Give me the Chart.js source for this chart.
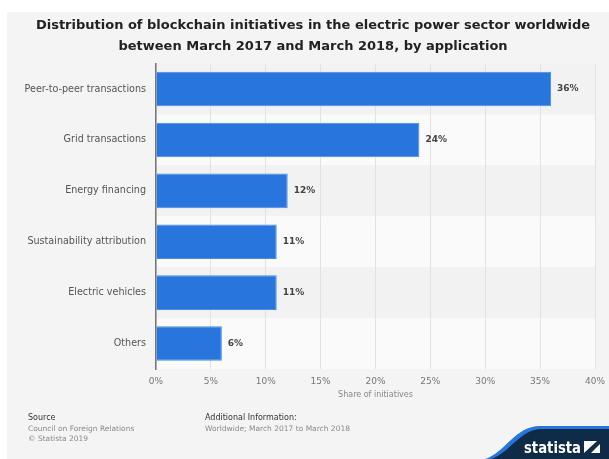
<!DOCTYPE html>
<html>
<head>
<meta charset="utf-8">
<script src="https://cdn.jsdelivr.net/npm/chart.js@4/dist/chart.umd.min.js"></script>
<style>
  body { margin: 0; background: #fff; }
  #wrap { position: relative; width: 609px; height: 459px; }
  #chart { position: absolute; left: 0; top: 0; }
  .foot { position: absolute; font-family: "DejaVu Sans", sans-serif; font-size: 7.5px; line-height: 10.5px; color: #8a8a8a; }
  .foot b { font-weight: normal; color: #333; font-size: 8px; }
  #logo { position: absolute; right: 0; bottom: 0; }
</style>
</head>
<body>
<div id="wrap">
  <canvas id="chart" width="609" height="459"></canvas>
  <div class="foot" style="left:28px; top:413px;"><b>Source</b><br>Council on Foreign Relations<br>© Statista 2019</div>
  <div class="foot" style="left:205px; top:413px;"><b>Additional Information:</b><br>Worldwide; March 2017 to March 2018</div>
  <svg id="logo" width="129" height="36" viewBox="0 0 129 36">
    <path d="M5 36 C 25 30, 35 3, 60 3 L129 3 L129 36 Z" fill="#2876dd"/>
    <path d="M11 36 C 30 30, 40 6, 62 6 L129 6 L129 36 Z" fill="#0f2b47"/>
    <text x="44" y="30" fill="#fff" font-family="DejaVu Sans Condensed, DejaVu Sans, sans-serif" font-weight="bold" font-size="16" textLength="57" lengthAdjust="spacingAndGlyphs">statista</text>
    <rect x="104" y="18" width="16" height="12" fill="#fff"/>
    <path d="M104 30 L117 18 L120 18 L120 21 L111 30 Z" fill="#0f2b47"/>
  </svg>
</div>
<script>
const categories = ["Peer-to-peer transactions", "Grid transactions", "Energy financing",
  "Sustainability attribution", "Electric vehicles", "Others"];
const shares = [36, 24, 12, 11, 11, 6];
const xTicks = [0, 5, 10, 15, 20, 25, 30, 35, 40];

const FONT = "DejaVu Sans";

const panelBg = {
  id: "panelBg",
  afterLayout(chart) {
    // title in the original is centred a bit right of the canvas middle
    chart.titleBlock.left = 31;
    chart.titleBlock.right = 595;
  },
  beforeDraw(chart) {
    const ctx = chart.ctx;
    ctx.save();
    ctx.fillStyle = "#f4f4f4";
    ctx.fillRect(7, 12, chart.width - 7, chart.height - 12);
    const y = chart.scales.y, a = chart.chartArea;
    const step = (y.getPixelForValue(1) - y.getPixelForValue(0));
    categories.forEach((c, i) => {
      const cy = y.getPixelForValue(i);
      ctx.fillStyle = i % 2 === 0 ? "#f2f2f2" : "#fafafa";
      ctx.fillRect(a.left, cy - step / 2, a.right - a.left, step);
    });
    ctx.restore();
  }
};

const valueLabels = {
  id: "valueLabels",
  afterDatasetsDraw(chart) {
    const ctx = chart.ctx;
    const meta = chart.getDatasetMeta(0);
    ctx.save();
    ctx.font = "bold 9px '" + FONT + "'";
    ctx.fillStyle = "#444";
    ctx.textBaseline = "middle";
    meta.data.forEach((bar, i) => {
      ctx.fillText(shares[i] + "%", bar.x + 6, bar.y);
    });
    ctx.restore();
  }
};

new Chart(document.getElementById("chart"), {
  type: "bar",
  data: {
    labels: categories,
    datasets: [{
      data: shares,
      backgroundColor: "#2876dd",
      borderColor: "#4a8ce3",
      borderWidth: 1,
      categoryPercentage: 0.68,
      barPercentage: 1
    }]
  },
  options: {
    indexAxis: "y",
    responsive: false,
    animation: false,
    layout: { padding: { left: 7, right: 14, top: 0, bottom: 55 } },
    plugins: {
      legend: { display: false },
      tooltip: { enabled: false },
      title: {
        display: true,
        text: ["Distribution of blockchain initiatives in the electric power sector worldwide",
               "between March 2017 and March 2018, by application"],
        font: { family: FONT, size: 13, weight: "bold", lineHeight: 1.6 },
        color: "#222",
        padding: { top: 15, bottom: 7 }
      }
    },
    scales: {
      x: {
        min: 0, max: 40,
        afterBuildTicks(s) { s.ticks = xTicks.map(v => ({ value: v })); },
        afterFit(s) { s.height = 35; s.paddingRight = 0; s.paddingLeft = 0; },
        ticks: { callback: v => v + "%", color: "#777", font: { family: FONT, size: 9 }, padding: 7 },
        grid: { color: "#e2e2e2", drawTicks: false },
        border: { display: false },
        title: { display: true, text: "Share of initiatives", color: "#888", font: { family: FONT, size: 8 }, padding: { top: 2 } }
      },
      y: {
        afterFit(s) { s.width = 149; },
        ticks: { color: "#555", font: { family: FONT, size: 9.6 }, padding: 10 },
        grid: { display: false, drawTicks: false },
        border: { display: true, color: "#777", width: 1.5 }
      }
    }
  },
  plugins: [panelBg, valueLabels]
});
</script>
</body>
</html>
